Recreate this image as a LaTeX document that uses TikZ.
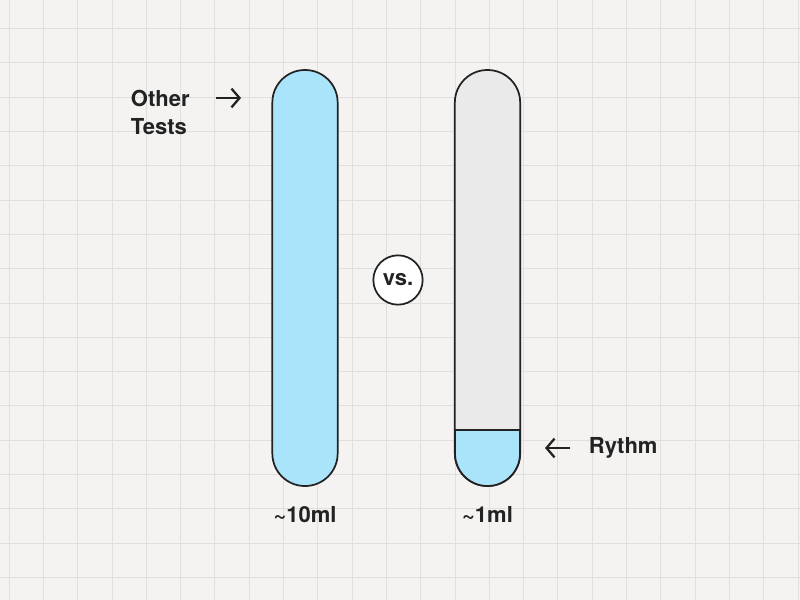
\documentclass[tikz,border=0pt]{standalone}
\usepackage{fontspec}
\setmainfont{TeX Gyre Heros}
\usetikzlibrary{arrows.meta}
\definecolor{paper}{RGB}{244,243,242}
\definecolor{gridline}{RGB}{224,223,222}
\definecolor{tubeblue}{RGB}{170,228,250}
\definecolor{tubegrey}{RGB}{234,234,234}
\definecolor{ink}{RGB}{34,34,34}
\tikzset{every picture/.style={line width=0.75pt}}
\tikzset{
  tube/.style={draw=ink, line width=1.3pt, rounded corners=24.4pt, minimum width=49pt, minimum height=312pt, inner sep=0pt},
  lbl/.style={text=ink, font=\bfseries\fontsize{16.5}{21}\selectfont, align=left},
  pointer/.style={draw=ink, line width=1.7pt, -{Straight Barb[length=6pt,width=14pt]}}
}
\begin{document}
\begin{tikzpicture}[x=0.75pt,y=0.75pt,yscale=-1,xscale=1]
	\useasboundingbox (0,0) rectangle (800,600);
	%background and grid
	\fill [paper] (0,0) rectangle (800,600);
	\foreach \gx in {9,43.3,...,800} \draw [gridline, line width=0.6pt] (\gx,0) -- (\gx,600);
	\foreach \gy in {28.5,62.8,...,600} \draw [gridline, line width=0.6pt] (0,\gy) -- (800,\gy);

	%tubes
	\node [tube, fill=tubeblue] (tenml) at (305,278) {};
	\node [tube, fill=tubegrey] (oneml) at (487.5,278) {};
	%blue bottom of right tube
	\draw [draw=ink, line width=1.3pt, fill=tubeblue] (455,430) -- (455,453.5) arc (180:0:32.5) -- (520,430) -- cycle;

	%vs circle
	\node [draw=ink, line width=1.3pt, fill=white, circle, minimum size=37pt, inner sep=0pt, lbl] (vs) at (398,280) {vs.};

	%labels
	\node [lbl, anchor=west] (other) at (126,112) {Other\\Tests};
	\coordinate (otherarrow) at (241,98);
	\draw [pointer] (216,98) -- (otherarrow);
	\node [lbl, anchor=west] (rythm) at (584,448) {Rythm};
	\draw [pointer] (570,448) -- (545,448);
	\node [lbl] (tenlbl) at (tenml.south) [yshift=-21pt] {\textasciitilde10ml};
	\node [lbl] (onelbl) at (oneml.south) [yshift=-21pt] {\textasciitilde1ml};
\end{tikzpicture}
\end{document}
